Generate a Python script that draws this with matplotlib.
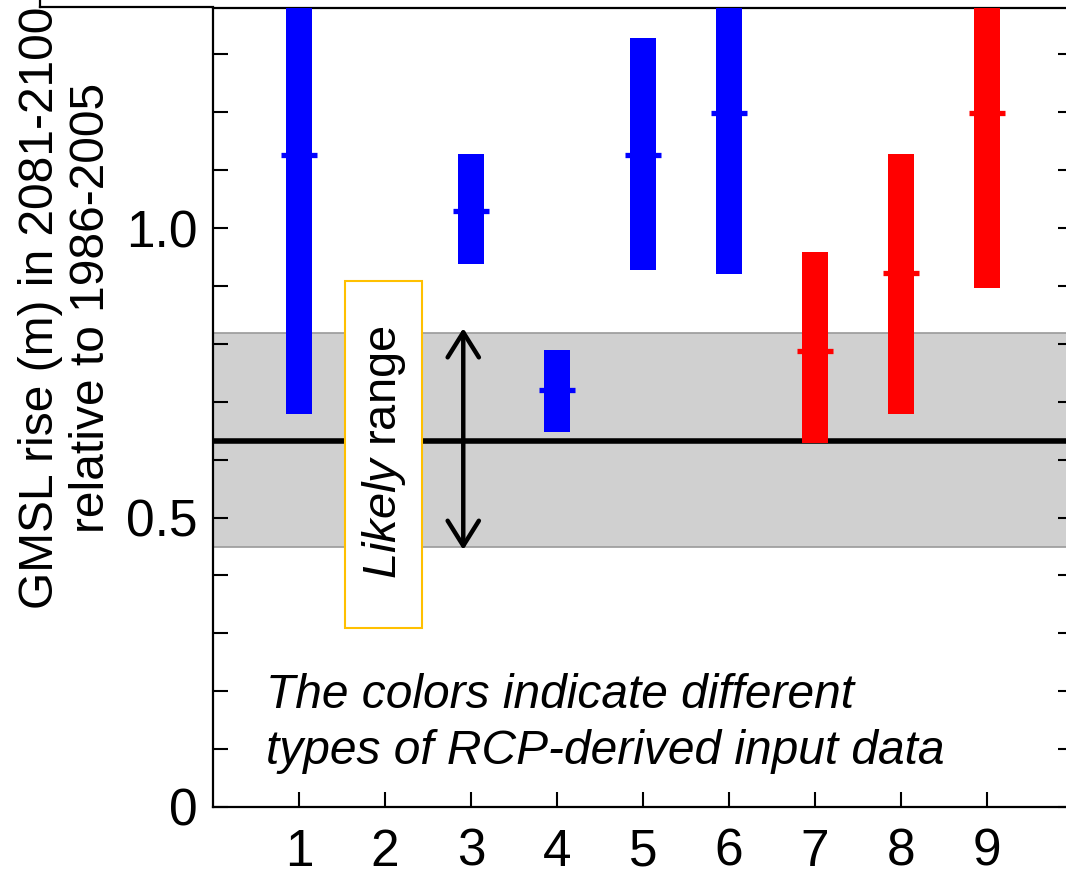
import matplotlib
matplotlib.use("Agg")
import matplotlib.pyplot as plt
from matplotlib.patches import Rectangle
from matplotlib.lines import Line2D

plt.rcParams['font.family'] = ['Liberation Sans', 'DejaVu Sans']
plt.rcParams['mathtext.fontset'] = 'custom'
plt.rcParams['mathtext.it'] = 'Liberation Sans:italic'
plt.rcParams['mathtext.rm'] = 'Liberation Sans'

# ---- data ----
models = [1, 3, 4, 5, 6, 7, 8, 9]
lows = [0.679, 0.938, 0.648, 0.927, 0.921, 0.629, 0.679, 0.896]
highs = [1.45, 1.128, 0.789, 1.328, 1.45, 0.959, 1.128, 1.45]
medians = [1.126, 1.029, 0.720, 1.126, 1.199, 0.788, 0.922, 1.199]
colors = ['#0000FF', '#0000FF', '#0000FF', '#0000FF', '#0000FF', '#FF0000', '#FF0000', '#FF0000']
xtick_vals = [1, 2, 3, 4, 5, 6, 7, 8, 9]
ytick_vals = [0.0, 0.1, 0.2, 0.3, 0.4, 0.5, 0.6, 0.7, 0.8, 0.9, 1.0, 1.1, 1.2, 1.3]
ytick_labels = ['0', '', '', '', '', '0.5', '', '', '', '', '1.0', '', '', '']
likely_low, likely_high = 0.449, 0.819
likely_median = 0.632

W, H = 1066, 873
fig = plt.figure(figsize=(W / 100, H / 100), dpi=100)
ax = fig.add_axes([213 / W, (H - 807) / H, 860 / W, 799 / H])
ax.set_xlim(0, 10)
ax.set_ylim(0, 799 / 579)

# likely range band and median line
ax.axhspan(likely_low, likely_high, facecolor='#d0d0d0', edgecolor='#9a9a9a', lw=1.2, zorder=1)
ax.axhline(likely_median, color='black', lw=4.0, zorder=2)

# bars
heights = [h - l for h, l in zip(highs, lows)]
ax.bar(models, heights, bottom=lows, width=0.30, color=colors, zorder=3)
for x, m, c in zip(models, medians, colors):
    ax.hlines(m, x - 0.215, x + 0.215, colors=c, lw=3.8, zorder=4)

# Likely range box and text
ax.add_patch(Rectangle((1.535, 0.309), 0.895, 0.599, facecolor='white',
                       edgecolor='#FFC000', lw=1.5, zorder=5))
ax.text(1.99, 0.612, r'$\mathit{Likely}$ range', rotation=90, ha='center', va='center',
        fontsize=33.8, zorder=6)

# arrow
ax.annotate('', xy=(2.91, 0.444), xytext=(2.91, 0.827),
            arrowprops=dict(arrowstyle='<->,head_length=0.4,head_width=0.25',
                            mutation_scale=45, lw=3.2, color='black',
                            shrinkA=0, shrinkB=0), zorder=6)

# italic note
fig.text(266 / W, (H - 708) / H, 'The colors indicate different', fontsize=34.5,
         style='italic', ha='left', va='baseline')
fig.text(266 / W, (H - 764) / H, 'types of RCP-derived input data', fontsize=34.5,
         style='italic', ha='left', va='baseline')

# axes styling
ax.set_xticks(xtick_vals)
ax.set_xticklabels([str(v) for v in xtick_vals])
ax.set_yticks(ytick_vals)
ax.set_yticklabels(ytick_labels)
ax.tick_params(axis='both', direction='in', length=11, width=1.5, labelsize=37)
ax.tick_params(axis='y', right=True, pad=10.8)
ax.tick_params(axis='x', pad=15)
for s in ax.spines.values():
    s.set_linewidth(1.6)

# y label
fig.text(66 / W, (H - 308) / H, 'GMSL rise (m) in 2081-2100\nrelative to 1986-2005',
         rotation=90, ha='center', va='center', fontsize=34.5, multialignment='center',
         linespacing=1.15)

# outer frame fragment at top-left
fig.add_artist(Line2D([40 / W, 213 / W], [(H - 7) / H, (H - 7) / H], color='black', lw=1.6,
                      transform=fig.transFigure))
fig.add_artist(Line2D([40 / W, 40 / W], [1.0, (H - 7) / H], color='black', lw=1.6,
                      transform=fig.transFigure))

fig.savefig('out.png', dpi=100)
